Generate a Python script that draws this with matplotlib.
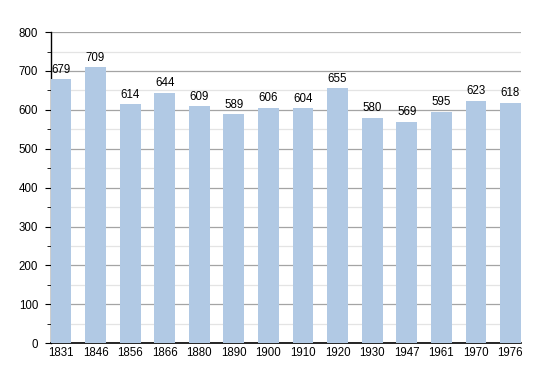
import matplotlib.pyplot as plt
from matplotlib.ticker import MultipleLocator

years = ["1831", "1846", "1856", "1866", "1880", "1890", "1900",
         "1910", "1920", "1930", "1947", "1961", "1970", "1976"]
population = [679, 709, 614, 644, 609, 589, 606, 604, 655, 580, 569, 595, 623, 618]

plt.rcParams["font.family"] = ["Liberation Sans", "DejaVu Sans"]

fig = plt.figure(figsize=(5.5, 3.73), dpi=100)
ax = fig.add_axes([0.092, 0.080, 0.855, 0.834])

x = range(len(years))
ax.bar(x, population, width=0.6, color="#b1c9e4", zorder=3)

for i, v in enumerate(population):
    ax.text(i, v + 9, str(v), ha="center", va="bottom", fontsize=8.3, zorder=4)

ax.set_xlim(-0.3, len(years) - 0.7)
ax.set_ylim(0, 800)
ax.set_xticks(list(x))
ax.set_xticklabels(years)
ax.yaxis.set_major_locator(MultipleLocator(100))
ax.yaxis.set_minor_locator(MultipleLocator(50))

ax.grid(axis="y", which="major", color="#a4a4a4", linewidth=0.9, zorder=0)
ax.grid(axis="y", which="minor", color="#e4e4e4", linewidth=0.9, zorder=0)

for s in ("top", "right"):
    ax.spines[s].set_visible(False)
ax.spines["left"].set_linewidth(1.0)
ax.spines["bottom"].set_linewidth(1.2)

ax.tick_params(axis="x", length=0, labelsize=8.3, pad=3)
ax.tick_params(axis="y", which="major", length=4, labelsize=8.3, pad=5)
ax.tick_params(axis="y", which="minor", length=3)

fig.savefig("out.png", dpi=100)
